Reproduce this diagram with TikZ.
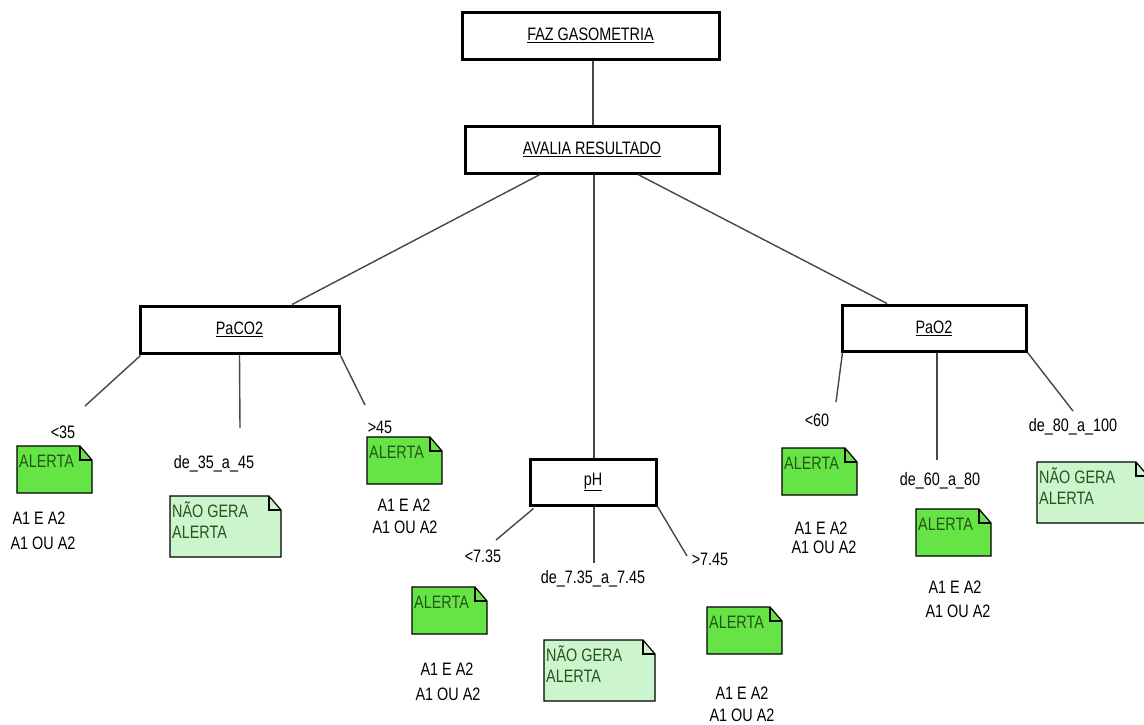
\documentclass[tikz,border=0pt]{standalone}
\usepackage{fontspec}
\setmainfont{Liberation Sans}[FakeStretch=0.8]
\definecolor{alertfill}{RGB}{102,228,70}
\definecolor{calmfill}{RGB}{205,245,205}
\definecolor{notefont}{RGB}{35,85,25}
\definecolor{linkgray}{RGB}{70,70,70}

% folded-corner note: name, top-left corner, size style, fill colour, text
\newcommand\foldnote[5]{%
  \node[notebody,#3,anchor=north west] (#1) at (#2) {};
  \filldraw[noteedge,fill=#4] (#1.north west) -- ([xshift=-12pt]#1.north east)
    -- ([yshift=-14pt]#1.north east) -- (#1.south east) -- (#1.south west) -- cycle;
  \draw[noteedge] ([xshift=-12pt]#1.north east) |- ([yshift=-14pt]#1.north east);
  \node[notetext] (#1-txt) at ([xshift=2pt,yshift=-21pt]#1.north west)
    {\begin{tabular}[t]{@{}l@{}}#5\end{tabular}};
}

\tikzset{
  txt/.style={font=\fontsize{18}{21.5}\selectfont},
  stepbox/.style={txt, draw, line width=3pt, rectangle, inner sep=0pt,
    minimum height=47pt},
  link/.style={draw=linkgray, line width=1.4pt},
  lbl/.style={txt, anchor=base, inner sep=0pt},
  notebody/.style={inner sep=0pt, outer sep=0pt, draw=none},
  alertsize/.style={minimum width=75pt, minimum height=47pt},
  calmsize/.style={minimum width=111pt, minimum height=61pt},
  noteedge/.style={draw=black, line width=1.2pt, line join=miter},
  notetext/.style={txt, text=notefont, anchor=base west, inner sep=0pt},
}

\begin{document}
\begin{tikzpicture}[x=1pt,y=-1pt]
\useasboundingbox (0,0) rectangle (1144,724);

% main boxes
\node[stepbox, minimum width=257pt] (faz)    at (590.5,35.5) {\underline{FAZ GASOMETRIA}};
\node[stepbox, minimum width=254pt] (avalia) at (592,149.5) {\underline{AVALIA RESULTADO}};
\node[stepbox, minimum width=199pt] (paco2)  at (239.5,329.5) {\underline{PaCO2}};
\node[stepbox, minimum width=126pt, minimum height=46pt] (ph) at (593,482) {\underline{pH}};
\node[stepbox, minimum width=184pt, minimum height=46pt] (pao2) at (934,328) {\underline{PaO2}};

% tree connectors
\draw[link] ([xshift=2.5pt]faz.south) -- ([xshift=1pt]avalia.north);
\draw[link] ([xshift=-52pt]avalia.south) -- ([xshift=52.5pt]paco2.north);
\draw[link] ([xshift=2pt]avalia.south) -- ([xshift=1pt]ph.north);
\draw[link] ([xshift=46pt]avalia.south) -- ([xshift=-47pt]pao2.north);

% free ends of the branch lines
\coordinate (e35)  at (85,406);
\coordinate (e3545) at (240,428);
\coordinate (e45)  at (365,405);
\coordinate (e735) at (496,540);
\coordinate (e7345) at (594,563);
\coordinate (e745) at (687,556);
\coordinate (e60)  at (836,402);
\coordinate (e6080) at (937,460);
\coordinate (e80)  at (1073,411);

\draw[link] ([xshift=2pt,yshift=-1pt]paco2.south west) -- (e35);
\draw[link] (paco2.south) -- (e3545);
\draw[link] ([yshift=-1pt]paco2.south east) -- (e45);
\draw[link] ([xshift=5pt,yshift=-2pt]ph.south west) -- (e735);
\draw[link] ([xshift=1pt]ph.south) -- (e7345);
\draw[link] (ph.south east) -- (e745);
\draw[link] ([xshift=2pt]pao2.south west) -- (e60);
\draw[link] ([xshift=3pt]pao2.south) -- (e6080);
\draw[link] (pao2.south east) -- (e80);

% branch labels
\node[lbl] (l35)   at (63,438)   {<35};
\node[lbl] (l3545) at (214,468)  {de\_35\_a\_45};
\node[lbl] (l45)   at (380,433)  {>45};
\node[lbl] (l735)  at (483,562)  {<7.35};
\node[lbl] (l7345) at (593,583)  {de\_7.35\_a\_7.45};
\node[lbl] (l745)  at (710,565)  {>7.45};
\node[lbl] (l60)   at (817,426)  {<60};
\node[lbl] (l6080) at (940,485)  {de\_60\_a\_80};
\node[lbl] (l80)   at (1073,431) {de\_80\_a\_100};

% notes
\foldnote{n35}{17,446}{alertsize}{alertfill}{ALERTA}
\foldnote{n3545}{170,496}{calmsize}{calmfill}{NÃO GERA\\ALERTA}
\foldnote{n45}{367,437}{alertsize}{alertfill}{ALERTA}
\foldnote{n735}{412,587}{alertsize}{alertfill}{ALERTA}
\foldnote{n7345}{544,640}{calmsize}{calmfill}{NÃO GERA\\ALERTA}
\foldnote{n745}{707,607}{alertsize}{alertfill}{ALERTA}
\foldnote{n60}{782,448}{alertsize}{alertfill}{ALERTA}
\foldnote{n6080}{916,509}{alertsize}{alertfill}{ALERTA}
\foldnote{n80}{1037,462}{calmsize}{calmfill}{NÃO GERA\\ALERTA}

% conditions under the alert notes
\node[lbl] (r35a)  at (39,524)  {A1 E A2};
\node[lbl] (r35b)  at (43,549)  {A1 OU A2};
\node[lbl] (r45a)  at (404,511) {A1 E A2};
\node[lbl] (r45b)  at (405,533) {A1 OU A2};
\node[lbl] (r735a) at (447,675) {A1 E A2};
\node[lbl] (r735b) at (448,700) {A1 OU A2};
\node[lbl] (r745a) at (742,699) {A1 E A2};
\node[lbl] (r745b) at (742,721) {A1 OU A2};
\node[lbl] (r60a)  at (821,534) {A1 E A2};
\node[lbl] (r60b)  at (824,553) {A1 OU A2};
\node[lbl] (r80a)  at (955,593) {A1 E A2};
\node[lbl] (r80b)  at (958,617) {A1 OU A2};
\end{tikzpicture}
\end{document}
